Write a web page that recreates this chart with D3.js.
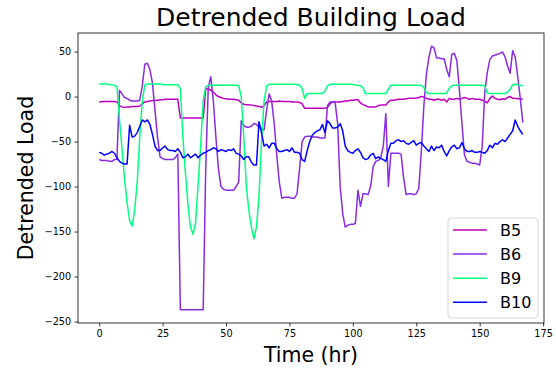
<!DOCTYPE html>
<html>
<head>
<meta charset="utf-8">
<script src="https://cdn.jsdelivr.net/npm/d3@7"></script>
<style>
  body { margin: 0; background: #fff; }
  svg { display: block; font-family: "DejaVu Sans", sans-serif; }
</style>
</head>
<body>
<svg width="556" height="370"></svg>
<script>
// hourly detrended load, t = 0..167
var seriesNames = ['B5', 'B6', 'B9', 'B10'];
var seriesColors = ['#bf00bf', '#8a2be2', '#00ff7f', '#0000ff'];

var b5 = [
  -6, -5.8, -5.6, -5.5, -5.5, -5.5, -5.5, -6, -10, -11.5,
  -12, -11.5, -11.5, -11, -11, -11, -10.5, -8, -6, -5.5,
  -5, -4.5, -4.5, -4, -3.5, -3.5, -3, -3, -3, -3,
  -3, -3, -23.7, -23.7, -23.7, -23.7, -23.7, -23.7, -23.7, -23.7,
  -23.7, -23.7, 9, 8.5, 7, 5, 2, 0, -1, -2,
  -2.5, -3, -3, -3, -3.5, -4, -7, -8.5, -9, -9,
  -9.5, -10, -10.5, -11, -12, -10, -6, -5.5, -5.5, -5.5,
  -5.5, -5, -5.5, -5.5, -5.5, -5.5, -6, -6, -6, -6.5,
  -8, -13, -13, -13, -13, -13, -13, -13, -13, -13,
  -12, -8, -6, -6, -6, -6, -5.5, -5, -5, -4,
  -4, -3.5, -3.5, -7, -9, -10, -11.5, -11.5, -11.5, -11.5,
  -10, -9.5, -9.5, -9.5, -6, -4, -4, -3.5, -3, -3,
  -3, -2.5, -2, -2, -2, -1.5, -1, 0, -0.5, -2,
  -3, -3, -4, -3, -3, -4, -3, -6, -2, -3,
  -3, -2, -3, -2, -1, -2, -3, -2, -3, -3,
  -3, -4, -5, -7, -2, 0.5, -2, -3, -3.5, -2.5,
  -3, -1, 0, -2, -2, -2.5, -2.5, -3
];

var b6 = [
  -70, -71, -71, -71, -72, -72, -70, -70, 7, 3,
  -1, -2, -4, -5, -5, -5, -4, 12, 36, 37,
  30, 15, -15, -45, -67, -69, -70, -70, -70, -70,
  -68, -64, -237, -237, -237, -237, -237, -237, -237, -237,
  -237, -237, -80, 10, 22, -5, -45, -80, -100, -103,
  -104, -104, -104, -104, -100, -95, -27, -32, -34, -34,
  -33, -30, -31, -34, -36, -37, -15, 3, -5, -30,
  -65, -95, -113, -112, -112, -112, -113, -113, -108, -80,
  -50, -45, -44, -44, -45, -45, -45, -46, -46, -46,
  -10, -6, -6, -6, -30, -100, -130, -145, -143, -142,
  -142, -141, -104, -122, -108, -108, -109, -100, -78, -72,
  -71, -68, -55, -19, -100, -63, -63, -63, -63, -64,
  -90, -109, -108, -108, -109, -108, -102, -60, -10, 25,
  44, 56, 54, 43, 43, 42, 42, 30, 22, 47,
  48, 40, 7, -30, -65, -72, -73, -74, -74, -75,
  -76, -55, 5, 27, 41, 45, 46, 47, 48, 49.6,
  44, 34, 26, 51, 44, 22, -2, -29
];

var b9 = [
  14, 14, 14, 14, 13.5, 13, 12.5, 11, -25, -58,
  -92, -118, -138, -144, -126, -95, -45, -5, 13, 14,
  14, 14, 14, 14, 14, 13.5, 13, 13, 13, 13,
  13, 13, 9, -45, -85, -120, -145, -153, -140, -98,
  -55, -5, 11, 12.5, 12.5, 12.5, 12.5, 12.5, 12.5, 12.5,
  12.5, 12.5, 12.5, 12.5, 12.5, 12, 0, -45, -100, -126,
  -145, -158, -145, -111, -50, -5, 12, 13.7, 13.7, 13.7,
  13.7, 13.7, 13.7, 13.7, 13.7, 13.7, 13.7, 13.7, 13.5, 12.6,
  9, -2, 3.3, 3.3, 3.3, 3.3, 3.3, 3.3, 3.5, 6,
  12, 13.7, 13.7, 13.7, 13.7, 13.7, 13.7, 13.7, 13.7, 13.7,
  13.5, 13, 12.6, 12, 10, 3.3, 3.3, 3.3, 3.3, 3.3,
  3.3, 3.3, 3.3, 3.3, 8, 12.6, 12.6, 12.6, 12.6, 12.6,
  12.6, 12.6, 12.6, 12.6, 12.6, 12.6, 12.6, 12.6, 10, 4.5,
  3.3, 3.3, 3.3, 3.3, 3.3, 3.3, 3.3, 4, 9, 12,
  12.6, 12.6, 12.6, 12.6, 12.6, 12.6, 12.6, 12.6, 12.6, 12.6,
  12.6, 12.6, 12, 4, 3.3, 3.3, 3.3, 3.3, 3.3, 3.3,
  3.3, 5, 8, 13, 13.7, 13.5, 12.5, 11.9
];

var b10 = [
  -62, -63, -65, -64, -63, -61, -63, -68, -72, -74,
  -75, -75, -32, -45, -44, -40, -33, -26, -28, -26,
  -31, -42, -55, -60, -60, -57, -55, -59, -60, -60,
  -61, -58, -62, -68, -67, -64, -68, -66, -64, -68,
  -65, -63, -62, -60, -59, -57, -58, -61, -59, -60,
  -61, -59, -60, -58, -63, -64, -66, -70, -67, -67,
  -73, -76, -76, -28, -40, -55, -53, -57, -52, -52,
  -58, -61, -61, -60, -59, -61, -57, -62, -62, -63,
  -70, -72, -60, -50, -43, -40, -38, -37, -31, -40,
  -27, -30, -35, -35, -34, -30, -38, -55, -60, -62,
  -63, -60, -58, -62, -68, -70, -69, -65, -63, -69,
  -67, -69, -70, -72, -60, -52, -52, -49, -48, -50,
  -49, -52, -53, -51, -49, -54, -52, -51, -55, -58,
  -61, -55, -60, -56, -57, -54, -61, -66, -60, -56,
  -54, -58, -57, -51, -58, -61, -61, -60, -62, -62,
  -61, -62, -63, -60, -54, -57, -52, -53, -50, -48,
  -50, -46, -42, -38, -26, -33, -38, -42
];

var xTicks = [0, 25, 50, 75, 100, 125, 150, 175];
var yTicks = [-250, -200, -150, -100, -50, 0, 50];

var allSeries = [b5, b6, b9, b10];

var svg = d3.select('svg'),
  margin = {top: 33, right: 12, bottom: 47, left: 78},
  width = +svg.attr('width') - margin.left - margin.right,
  height = +svg.attr('height') - margin.top - margin.bottom;

var n = b5.length;
var xPad = (n - 1) * 0.05;
var yMin = d3.min(allSeries, function(s) { return d3.min(s); });
var yMax = d3.max(allSeries, function(s) { return d3.max(s); });
var yPad = (yMax - yMin) * 0.05;

var x = d3.scaleLinear().domain([-xPad, n - 1 + xPad]).range([0, width]),
    y = d3.scaleLinear().domain([yMin - yPad, yMax + yPad]).range([height, 0]);

var g = svg.append('g')
    .attr('transform', 'translate(' + margin.left + ',' + margin.top + ')');

var line = d3.line()
  .x(function(d, i) { return x(i); })
  .y(function(d) { return y(d); });

allSeries.forEach(function(s, k) {
  g.append('path')
    .datum(s)
    .attr('fill', 'none')
    .attr('stroke', seriesColors[k])
    .attr('stroke-width', 1.5)
    .attr('stroke-linejoin', 'round')
    .attr('d', line);
});

var xAxis = g.append('g')
  .attr('transform', 'translate(0,' + height + ')')
  .call(d3.axisBottom(x).tickValues(xTicks).tickSize(3.4).tickPadding(3.4).tickSizeOuter(0));

var yAxis = g.append('g')
  .call(d3.axisLeft(y).tickValues(yTicks).tickSize(3.4).tickPadding(3.4).tickSizeOuter(0));

[xAxis, yAxis].forEach(function(a) {
  a.select('.domain').remove();
  a.selectAll('text')
    .attr('font-family', 'DejaVu Sans')
    .attr('font-size', 9.7)
    .attr('fill', '#000');
  a.selectAll('line').attr('stroke', '#000').attr('stroke-width', 0.8);
});

// frame
g.append('rect')
  .attr('width', width)
  .attr('height', height)
  .attr('fill', 'none')
  .attr('stroke', '#000')
  .attr('stroke-width', 0.8);

svg.append('text')
  .attr('x', margin.left + width / 2)
  .attr('y', 26)
  .attr('text-anchor', 'middle')
  .attr('font-size', 25)
  .text('Detrended Building Load');

svg.append('text')
  .attr('x', margin.left + width / 2)
  .attr('y', 362)
  .attr('text-anchor', 'middle')
  .attr('font-size', 20.5)
  .text('Time (hr)');

svg.append('text')
  .attr('transform', 'translate(33,' + (margin.top + height / 2) + ') rotate(-90)')
  .attr('text-anchor', 'middle')
  .attr('font-size', 20.5)
  .text('Detrended Load');

// legend
var legend = svg.append('g').attr('transform', 'translate(448,218)');
legend.append('rect')
  .attr('width', 90)
  .attr('height', 100)
  .attr('rx', 3)
  .attr('fill', '#fff')
  .attr('fill-opacity', 0.8)
  .attr('stroke', '#cccccc')
  .attr('stroke-width', 0.8);

seriesNames.forEach(function(name, k) {
  var cy = 12 + k * 24.1;
  legend.append('line')
    .attr('x1', 5).attr('x2', 39)
    .attr('y1', cy).attr('y2', cy)
    .attr('stroke', seriesColors[k])
    .attr('stroke-width', 1.5);
  legend.append('text')
    .attr('x', 52)
    .attr('y', cy + 6)
    .attr('font-size', 16)
    .text(name);
});
</script>
</body>
</html>
